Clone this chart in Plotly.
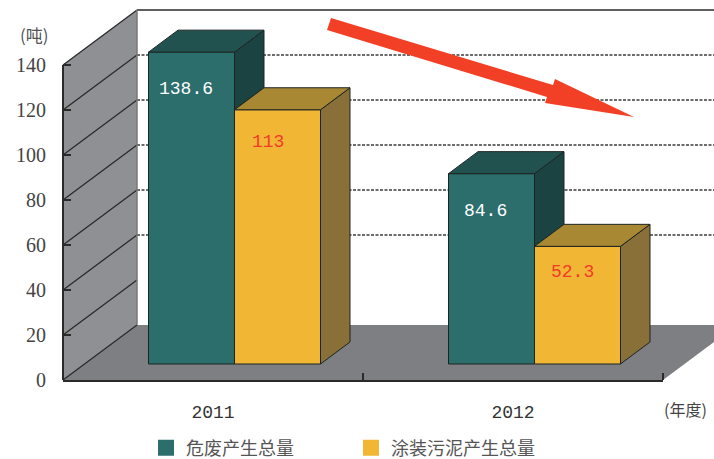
import plotly.graph_objects as go

categories = ["2011", "2012"]
series_names = ["危废产生总量", "涂装污泥产生总量"]
hazardous = [138.6, 84.6]
sludge = [113, 52.3]
label_hazardous = ["138.6", "84.6"]
label_sludge = ["113", "52.3"]
y_ticks = [0, 20, 40, 60, 80, 100, 120, 140]

# canvas geometry (pixels)
W, H = 714, 459
L, R, B = 63, 663, 380
PX_PER_UNIT = 2.25
Y_MAX = B / PX_PER_UNIT
CAT_PX = 300
WALL_DX, WALL_DY = 74, 55
BAR_PX = 86
BAR_DX, BAR_DY = 29.5, 22
FLOOR_DX, FLOOR_DY = 21.5, 16

def xp(p):
    return (p - L) / (R - L)
def yp(p):
    return (B - p) / B
def poly(points):
    return "M" + "L".join(f"{xp(a):.5f},{yp(b):.5f}" for a, b in points) + "Z"

TEAL, TEAL_TOP, TEAL_SIDE = "#2B6E6C", "#225250", "#1B4341"
GOLD, GOLD_TOP, GOLD_SIDE = "#F2B635", "#A98833", "#887038"
EDGE = "#1c2422"

shapes = []
pshape = dict(type="path", xref="paper", yref="paper", layer="below")
shapes.append(dict(pshape, path=poly([(L, B), (L, B - 140 * PX_PER_UNIT), (L + WALL_DX, 10), (L + WALL_DX, B - WALL_DY)]),
                   fillcolor="#8F9094", line=dict(width=0)))
shapes.append(dict(pshape, path=poly([(L, B), (L + WALL_DX, B - WALL_DY), (W, B - WALL_DY), (W, B - (W - R) * WALL_DY / WALL_DX), (R, B)]),
                   fillcolor="#7E7F83", line=dict(width=0)))
line = dict(type="line", xref="paper", yref="paper", layer="below")
for v in y_ticks:
    y0 = B - v * PX_PER_UNIT
    shapes.append(dict(line, x0=xp(L), y0=yp(y0), x1=xp(L + WALL_DX), y1=yp(y0 - WALL_DY),
                       line=dict(color="#2a2a2a", width=1.3)))
    if 20 < v < 140:
        shapes.append(dict(line, x0=xp(L + WALL_DX), y0=yp(y0 - WALL_DY), x1=xp(W), y1=yp(y0 - WALL_DY),
                           line=dict(color="#3c3c3c", width=1.6, dash="3px,1.5px")))
shapes.append(dict(line, x0=xp(L + WALL_DX), y0=yp(10), x1=xp(W), y1=yp(10), line=dict(color="#5f5f5f", width=2)))
shapes.append(dict(line, x0=xp(L + WALL_DX), y0=yp(10), x1=xp(L + WALL_DX), y1=yp(B - WALL_DY), line=dict(color="#77787b", width=1.5)))
shapes.append(dict(line, x0=xp(L), y0=yp(B), x1=xp(L), y1=yp(B - 140 * PX_PER_UNIT), line=dict(color="#2a2a2a", width=2)))
# red trend arrow
shapes.append(dict(type="path", xref="paper", yref="paper", layer="above",
                   path=poly([(331, 18), (553, 85), (555, 79), (634, 117), (545, 103), (547, 97), (327, 30)]),
                   fillcolor="#F24026", line=dict(width=0)))

fig = go.Figure()

bar_w = BAR_PX / CAT_PX
shift = FLOOR_DX / CAT_PX
base = FLOOR_DY / PX_PER_UNIT
dx = BAR_DX / CAT_PX
dy = BAR_DY / PX_PER_UNIT
idx = list(range(len(categories)))

def faces(x_left, top, lower, color_top, color_side):
    """Top and side face of a bar, derived from its value."""
    x_r = x_left + bar_w
    t = base + top
    lo = base + lower
    fig.add_trace(go.Scatter(x=[x_r, x_r + dx, x_r + dx, x_r, x_r], y=[t, t + dy, lo + dy, lo, t],
                             mode="lines", fill="toself", fillcolor=color_side,
                             line=dict(color=EDGE, width=1), showlegend=False, hoverinfo="skip"))
    fig.add_trace(go.Scatter(x=[x_left, x_left + dx, x_r + dx, x_r, x_left], y=[t, t + dy, t + dy, t, t],
                             mode="lines", fill="toself", fillcolor=color_top,
                             line=dict(color=EDGE, width=1), showlegend=False, hoverinfo="skip"))

left_x = [i + shift - bar_w for i in idx]
right_x = [i + shift for i in idx]

fig.add_trace(go.Bar(x=[a + bar_w / 2 for a in left_x], y=hazardous, base=base, width=bar_w,
                     marker=dict(color=TEAL, line=dict(color=EDGE, width=1)), showlegend=False))
fig.add_trace(go.Bar(x=[a + bar_w / 2 for a in right_x], y=sludge, base=base, width=bar_w,
                     marker=dict(color=GOLD, line=dict(color=EDGE, width=1)), showlegend=False))
for i in idx:
    faces(left_x[i], hazardous[i], sludge[i], TEAL_TOP, TEAL_SIDE)
    faces(right_x[i], sludge[i], 0, GOLD_TOP, GOLD_SIDE)

for name, color in zip(series_names, [TEAL, GOLD]):
    fig.add_trace(go.Scatter(x=[None], y=[None], mode="markers", name=name,
                             marker=dict(symbol="square", size=16, color=color)))

annotations = []
mono = "Liberation Mono"
offs_h = [(-6, -37), (-6, -37)]
offs_s = [(-10, -32), (-5, -26)]
for i in idx:
    annotations.append(dict(x=left_x[i] + bar_w / 2, y=base + hazardous[i], text=label_hazardous[i], showarrow=False,
                            xshift=offs_h[i][0], yshift=offs_h[i][1], font=dict(family=mono, size=18, color="#ffffff")))
    annotations.append(dict(x=right_x[i] + bar_w / 2, y=base + sludge[i], text=label_sludge[i], showarrow=False,
                            xshift=offs_s[i][0], yshift=offs_s[i][1], font=dict(family=mono, size=18, color="#F23A2A")))
cjk = "Noto Sans CJK SC"
annotations.append(dict(xref="paper", yref="paper", x=xp(34), y=yp(35), xanchor="center", yanchor="middle",
                        text="(吨)", showarrow=False, font=dict(family=cjk, size=17, color="#555555")))
annotations.append(dict(xref="paper", yref="paper", x=xp(662), y=yp(409), xanchor="left", yanchor="middle",
                        text="(年度)", showarrow=False, font=dict(family=cjk, size=16, color="#444444")))

fig.update_layout(
    width=W, height=H, autosize=False,
    margin=dict(l=L, r=W - R, t=0, b=H - B, autoexpand=False),
    paper_bgcolor="white", plot_bgcolor="rgba(0,0,0,0)",
    shapes=shapes, annotations=annotations, barmode="overlay",
    font=dict(family="Liberation Serif", color="#444444"),
    legend=dict(orientation="h", x=xp(146), y=yp(448), xanchor="left", yanchor="middle",
                font=dict(family=cjk, size=18, color="#555555"), entrywidth=160, entrywidthmode="pixels",
                itemsizing="trace", bgcolor="rgba(0,0,0,0)"),
    xaxis=dict(range=[-0.5, 1.5], tickmode="array", tickvals=idx, ticktext=categories, ticks="",
               showgrid=False, zeroline=False, showline=True, linecolor="#2a2a2a", linewidth=2,
               minor=dict(tickmode="array", tickvals=[-0.5, 0.5, 1.5], ticks="inside", ticklen=7,
                          tickcolor="#2a2a2a", tickwidth=1.5, showgrid=False),
               tickfont=dict(family=mono, size=18, color="#333333"), ticklabelstandoff=14),
    yaxis=dict(range=[0, Y_MAX], tickmode="array", tickvals=y_ticks, ticks="inside", ticklen=8,
               tickcolor="#2a2a2a", tickwidth=1.5, showgrid=False, zeroline=False, showline=False,
               tickfont=dict(family="Liberation Serif", size=20, color="#444444"), ticklabelstandoff=16),
)

fig.write_html("out.html", config={"displayModeBar": False},
               post_script="document.body.style.margin='0';document.body.style.overflow='hidden';")
